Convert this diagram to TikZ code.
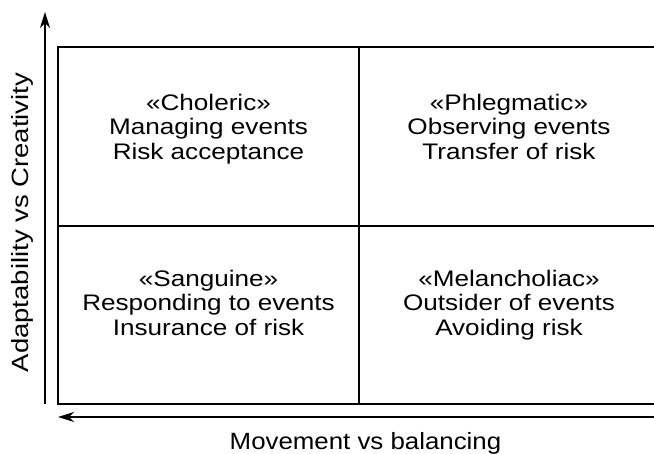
\documentclass[tikz,border=0pt]{standalone}
\usepackage{fontspec}
\setmainfont[FakeStretch=1.16]{Liberation Sans}
\newfontfamily\xlblfont[FakeStretch=1.1]{Liberation Sans}
\newfontfamily\ylblfont[FakeStretch=1.17]{Liberation Sans}
\usetikzlibrary{arrows.meta}
\begin{document}
\begin{tikzpicture}[x=1pt,y=-1pt,line width=1.2pt,
  cell/.style={align=center,font=\fontsize{22.5}{24.5}\selectfont,inner sep=0pt},
  xlbl/.style={font=\xlblfont\fontsize{23.5}{28}\selectfont,inner sep=0pt},
  ylbl/.style={font=\ylblfont\fontsize{23.5}{28}\selectfont,inner sep=0pt},
  axis/.style={line width=1.4pt,-{Stealth[length=16pt,width=10pt,inset=5pt]}}]
\useasboundingbox (0,0) rectangle (654,454);
% grid
\coordinate (tl) at (58,47);
\coordinate (br) at (660,404);
\coordinate (mt) at (359,47);
\coordinate (mb) at (359,404);
\coordinate (ml) at (58,226);
\coordinate (mr) at (660,226);
\draw (tl) rectangle (br);
\draw (mt) -- (mb);
\draw (ml) -- (mr);
% axes
\coordinate (ya0) at (45,404);
\coordinate (ya1) at (45,12);
\draw[axis] (ya0) -- (ya1);
\coordinate (xa0) at (660,417);
\coordinate (xa1) at (58,417);
\draw[axis] (xa0) -- (xa1);
% cells
\node[cell] (c1) at (208.5,130.1) {\strut«Choleric»\\Managing events\\Risk acceptance\strut};
\node[cell] (c2) at (509,130.1) {\strut«Phlegmatic»\\Observing events\\Transfer of risk\strut};
\node[cell] (c3) at (208.5,306.1) {\strut«Sanguine»\\Responding to events\\Insurance of risk\strut};
\node[cell] (c4) at (509,306.1) {\strut«Melancholiac»\\Outsider of events\\Avoiding risk\strut};
% labels
\node[xlbl,anchor=base] (xl) at (365.5,450) {Movement vs balancing};
\node[ylbl,anchor=base,rotate=90] (yl) at (28.8,222.5) {Adaptability vs Creativity};
\end{tikzpicture}
\end{document}
